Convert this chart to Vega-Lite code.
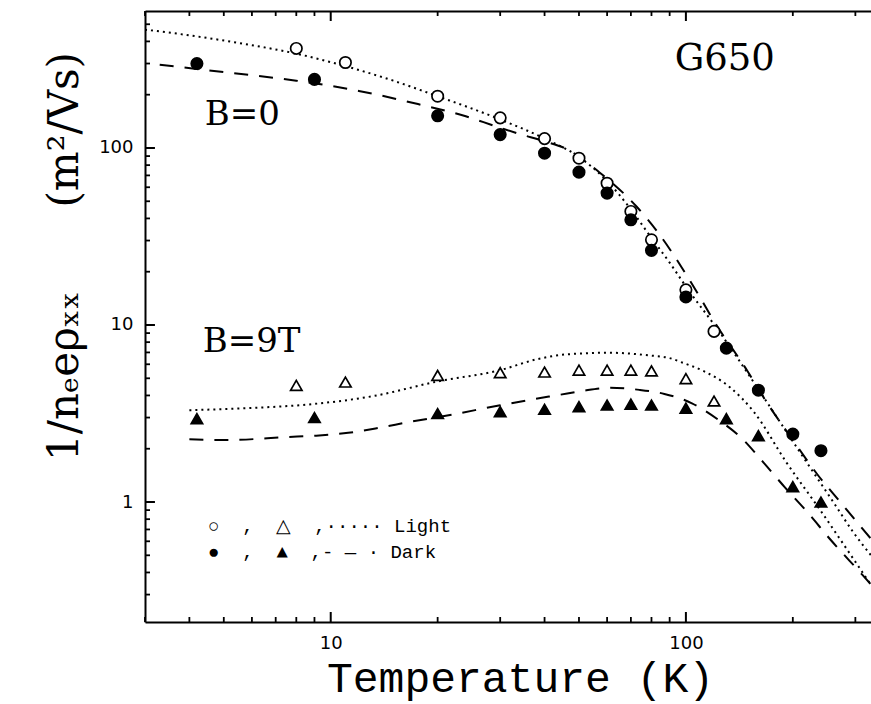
{
  "$schema": "https://vega.github.io/schema/vega-lite/v6.json",
  "width": 726,
  "height": 611,
  "autosize": {"type": "none"},
  "padding": {"left": 145, "top": 11, "right": 0, "bottom": 82},
  "background": "white",
  "config": {"view": {"stroke": null}, "axis": {"grid": false, "domainColor": "black", "domainWidth": 2}},
  "datasets": {
    "points": [
      {"T": 8, "v": 365, "cond": "Light", "B": "0"},
      {"T": 11, "v": 304, "cond": "Light", "B": "0"},
      {"T": 20, "v": 196, "cond": "Light", "B": "0"},
      {"T": 30, "v": 148, "cond": "Light", "B": "0"},
      {"T": 40, "v": 113, "cond": "Light", "B": "0"},
      {"T": 50, "v": 87.5, "cond": "Light", "B": "0"},
      {"T": 60, "v": 63.2, "cond": "Light", "B": "0"},
      {"T": 70, "v": 43.8, "cond": "Light", "B": "0"},
      {"T": 80, "v": 30.3, "cond": "Light", "B": "0"},
      {"T": 100, "v": 15.8, "cond": "Light", "B": "0"},
      {"T": 120, "v": 9.2, "cond": "Light", "B": "0"},
      {"T": 4.2, "v": 300, "cond": "Dark", "B": "0"},
      {"T": 9, "v": 244, "cond": "Dark", "B": "0"},
      {"T": 20, "v": 152, "cond": "Dark", "B": "0"},
      {"T": 30, "v": 119, "cond": "Dark", "B": "0"},
      {"T": 40, "v": 93.4, "cond": "Dark", "B": "0"},
      {"T": 50, "v": 73, "cond": "Dark", "B": "0"},
      {"T": 60, "v": 55.6, "cond": "Dark", "B": "0"},
      {"T": 70, "v": 39.3, "cond": "Dark", "B": "0"},
      {"T": 80, "v": 26.4, "cond": "Dark", "B": "0"},
      {"T": 100, "v": 14.4, "cond": "Dark", "B": "0"},
      {"T": 130, "v": 7.4, "cond": "Dark", "B": "0"},
      {"T": 160, "v": 4.28, "cond": "Dark", "B": "0"},
      {"T": 200, "v": 2.42, "cond": "Dark", "B": "0"},
      {"T": 240, "v": 1.95, "cond": "Dark", "B": "0"},
      {"T": 8, "v": 4.56, "cond": "Light", "B": "9T"},
      {"T": 11, "v": 4.76, "cond": "Light", "B": "9T"},
      {"T": 20, "v": 5.19, "cond": "Light", "B": "9T"},
      {"T": 30, "v": 5.38, "cond": "Light", "B": "9T"},
      {"T": 40, "v": 5.42, "cond": "Light", "B": "9T"},
      {"T": 50, "v": 5.56, "cond": "Light", "B": "9T"},
      {"T": 60, "v": 5.56, "cond": "Light", "B": "9T"},
      {"T": 70, "v": 5.56, "cond": "Light", "B": "9T"},
      {"T": 80, "v": 5.5, "cond": "Light", "B": "9T"},
      {"T": 100, "v": 4.98, "cond": "Light", "B": "9T"},
      {"T": 120, "v": 3.72, "cond": "Light", "B": "9T"},
      {"T": 4.2, "v": 2.96, "cond": "Dark", "B": "9T"},
      {"T": 9, "v": 3.0, "cond": "Dark", "B": "9T"},
      {"T": 20, "v": 3.16, "cond": "Dark", "B": "9T"},
      {"T": 30, "v": 3.24, "cond": "Dark", "B": "9T"},
      {"T": 40, "v": 3.34, "cond": "Dark", "B": "9T"},
      {"T": 50, "v": 3.46, "cond": "Dark", "B": "9T"},
      {"T": 60, "v": 3.53, "cond": "Dark", "B": "9T"},
      {"T": 70, "v": 3.57, "cond": "Dark", "B": "9T"},
      {"T": 80, "v": 3.53, "cond": "Dark", "B": "9T"},
      {"T": 100, "v": 3.39, "cond": "Dark", "B": "9T"},
      {"T": 130, "v": 2.96, "cond": "Dark", "B": "9T"},
      {"T": 160, "v": 2.37, "cond": "Dark", "B": "9T"},
      {"T": 200, "v": 1.22, "cond": "Dark", "B": "9T"},
      {"T": 240, "v": 1.0, "cond": "Dark", "B": "9T"}
    ],
    "curves": [
      {"T": 3, "v": 466, "curve": "LB0", "cond": "Light"},
      {"T": 4, "v": 433, "curve": "LB0", "cond": "Light"},
      {"T": 5.5, "v": 392, "curve": "LB0", "cond": "Light"},
      {"T": 8, "v": 341, "curve": "LB0", "cond": "Light"},
      {"T": 11, "v": 290, "curve": "LB0", "cond": "Light"},
      {"T": 15, "v": 240, "curve": "LB0", "cond": "Light"},
      {"T": 20, "v": 196, "curve": "LB0", "cond": "Light"},
      {"T": 30, "v": 145, "curve": "LB0", "cond": "Light"},
      {"T": 40, "v": 113, "curve": "LB0", "cond": "Light"},
      {"T": 50, "v": 89, "curve": "LB0", "cond": "Light"},
      {"T": 60, "v": 65, "curve": "LB0", "cond": "Light"},
      {"T": 70, "v": 45, "curve": "LB0", "cond": "Light"},
      {"T": 80, "v": 31, "curve": "LB0", "cond": "Light"},
      {"T": 90, "v": 22.5, "curve": "LB0", "cond": "Light"},
      {"T": 100, "v": 16.5, "curve": "LB0", "cond": "Light"},
      {"T": 125, "v": 9.0, "curve": "LB0", "cond": "Light"},
      {"T": 158, "v": 4.5, "curve": "LB0", "cond": "Light"},
      {"T": 190, "v": 2.57, "curve": "LB0", "cond": "Light"},
      {"T": 219, "v": 1.67, "curve": "LB0", "cond": "Light"},
      {"T": 260, "v": 1.0, "curve": "LB0", "cond": "Light"},
      {"T": 296, "v": 0.675, "curve": "LB0", "cond": "Light"},
      {"T": 332, "v": 0.5, "curve": "LB0", "cond": "Light"},
      {"T": 3.3, "v": 295, "curve": "DB0", "cond": "Dark"},
      {"T": 5.2, "v": 266, "curve": "DB0", "cond": "Dark"},
      {"T": 8, "v": 240, "curve": "DB0", "cond": "Dark"},
      {"T": 12, "v": 210, "curve": "DB0", "cond": "Dark"},
      {"T": 17.6, "v": 177, "curve": "DB0", "cond": "Dark"},
      {"T": 24, "v": 151, "curve": "DB0", "cond": "Dark"},
      {"T": 29, "v": 133, "curve": "DB0", "cond": "Dark"},
      {"T": 34, "v": 120, "curve": "DB0", "cond": "Dark"},
      {"T": 40, "v": 109, "curve": "DB0", "cond": "Dark"},
      {"T": 46, "v": 99, "curve": "DB0", "cond": "Dark"},
      {"T": 57, "v": 73, "curve": "DB0", "cond": "Dark"},
      {"T": 72.6, "v": 46.7, "curve": "DB0", "cond": "Dark"},
      {"T": 83, "v": 33.8, "curve": "DB0", "cond": "Dark"},
      {"T": 100, "v": 19.4, "curve": "DB0", "cond": "Dark"},
      {"T": 109, "v": 14.6, "curve": "DB0", "cond": "Dark"},
      {"T": 120, "v": 10.5, "curve": "DB0", "cond": "Dark"},
      {"T": 149, "v": 5.5, "curve": "DB0", "cond": "Dark"},
      {"T": 169, "v": 3.65, "curve": "DB0", "cond": "Dark"},
      {"T": 200, "v": 2.24, "curve": "DB0", "cond": "Dark"},
      {"T": 234, "v": 1.44, "curve": "DB0", "cond": "Dark"},
      {"T": 272, "v": 1.0, "curve": "DB0", "cond": "Dark"},
      {"T": 332, "v": 0.62, "curve": "DB0", "cond": "Dark"},
      {"T": 4.0, "v": 3.3, "curve": "L9T", "cond": "Light"},
      {"T": 6, "v": 3.4, "curve": "L9T", "cond": "Light"},
      {"T": 8.7, "v": 3.56, "curve": "L9T", "cond": "Light"},
      {"T": 13.2, "v": 3.97, "curve": "L9T", "cond": "Light"},
      {"T": 20, "v": 4.8, "curve": "L9T", "cond": "Light"},
      {"T": 30, "v": 5.56, "curve": "L9T", "cond": "Light"},
      {"T": 38, "v": 6.4, "curve": "L9T", "cond": "Light"},
      {"T": 46, "v": 6.82, "curve": "L9T", "cond": "Light"},
      {"T": 61, "v": 6.97, "curve": "L9T", "cond": "Light"},
      {"T": 79, "v": 6.73, "curve": "L9T", "cond": "Light"},
      {"T": 90, "v": 6.5, "curve": "L9T", "cond": "Light"},
      {"T": 98, "v": 6.12, "curve": "L9T", "cond": "Light"},
      {"T": 112, "v": 5.5, "curve": "L9T", "cond": "Light"},
      {"T": 133, "v": 4.45, "curve": "L9T", "cond": "Light"},
      {"T": 155, "v": 3.25, "curve": "L9T", "cond": "Light"},
      {"T": 192, "v": 1.67, "curve": "L9T", "cond": "Light"},
      {"T": 238, "v": 0.91, "curve": "L9T", "cond": "Light"},
      {"T": 296, "v": 0.478, "curve": "L9T", "cond": "Light"},
      {"T": 332, "v": 0.34, "curve": "L9T", "cond": "Light"},
      {"T": 4.0, "v": 2.26, "curve": "D9T", "cond": "Dark"},
      {"T": 5.1, "v": 2.24, "curve": "D9T", "cond": "Dark"},
      {"T": 7.6, "v": 2.33, "curve": "D9T", "cond": "Dark"},
      {"T": 9.1, "v": 2.37, "curve": "D9T", "cond": "Dark"},
      {"T": 11.2, "v": 2.46, "curve": "D9T", "cond": "Dark"},
      {"T": 13.6, "v": 2.62, "curve": "D9T", "cond": "Dark"},
      {"T": 16.9, "v": 2.85, "curve": "D9T", "cond": "Dark"},
      {"T": 20.5, "v": 3.04, "curve": "D9T", "cond": "Dark"},
      {"T": 30, "v": 3.52, "curve": "D9T", "cond": "Dark"},
      {"T": 37, "v": 3.8, "curve": "D9T", "cond": "Dark"},
      {"T": 44, "v": 4.03, "curve": "D9T", "cond": "Dark"},
      {"T": 51, "v": 4.24, "curve": "D9T", "cond": "Dark"},
      {"T": 61, "v": 4.42, "curve": "D9T", "cond": "Dark"},
      {"T": 74, "v": 4.3, "curve": "D9T", "cond": "Dark"},
      {"T": 87, "v": 4.08, "curve": "D9T", "cond": "Dark"},
      {"T": 104, "v": 3.61, "curve": "D9T", "cond": "Dark"},
      {"T": 123, "v": 2.93, "curve": "D9T", "cond": "Dark"},
      {"T": 144, "v": 2.28, "curve": "D9T", "cond": "Dark"},
      {"T": 165, "v": 1.68, "curve": "D9T", "cond": "Dark"},
      {"T": 190, "v": 1.21, "curve": "D9T", "cond": "Dark"},
      {"T": 220, "v": 0.875, "curve": "D9T", "cond": "Dark"},
      {"T": 254, "v": 0.62, "curve": "D9T", "cond": "Dark"},
      {"T": 315, "v": 0.385, "curve": "D9T", "cond": "Dark"},
      {"T": 332, "v": 0.342, "curve": "D9T", "cond": "Dark"}
    ],
    "fieldlabels": [
      {"T": 4.42, "v": 135, "label": "B=0"},
      {"T": 4.36, "v": 7.04, "label": "B=9T"}
    ],
    "sample": [
      {"T": 93, "v": 276, "label": "G650"}
    ],
    "xmajor": [{"T": 10}, {"T": 100}],
    "xminor": [{"T": 3}, {"T": 4}, {"T": 5}, {"T": 6}, {"T": 7}, {"T": 8}, {"T": 9}, {"T": 20}, {"T": 30}, {"T": 40}, {"T": 50}, {"T": 60}, {"T": 70}, {"T": 80}, {"T": 90}, {"T": 200}, {"T": 300}],
    "ymajor": [{"v": 1}, {"v": 10}, {"v": 100}],
    "yminor": [{"v": 0.3}, {"v": 0.4}, {"v": 0.5}, {"v": 0.6}, {"v": 0.7}, {"v": 0.8}, {"v": 0.9}, {"v": 2}, {"v": 3}, {"v": 4}, {"v": 5}, {"v": 6}, {"v": 7}, {"v": 8}, {"v": 9}, {"v": 20}, {"v": 30}, {"v": 40}, {"v": 50}, {"v": 60}, {"v": 70}, {"v": 80}, {"v": 90}, {"v": 200}, {"v": 300}, {"v": 400}, {"v": 500}]
  },
  "layer": [
    {
      "data": {"name": "curves"},
      "mark": {"type": "line", "interpolate": "monotone", "strokeWidth": 2, "color": "black", "clip": true},
      "encoding": {
        "x": {
          "field": "T", "type": "quantitative",
          "scale": {"type": "log", "domain": [3, 332], "nice": false},
          "axis": {
            "orient": "bottom",
            "values": [10, 100],
            "format": "d",
            "ticks": false, "domain": false,
            "labelFont": "DejaVu Sans", "labelFontSize": 18, "labelColor": "black",
            "labelBaseline": "top", "labelPadding": 12, "labelFlush": false, "labelOverlap": false,
            "title": "Temperature (K)",
            "titleFont": "Liberation Mono", "titleFontSize": 43, "titleFontWeight": "normal", "titleColor": "black",
            "titleX": 375, "titleY": 69, "titleBaseline": "alphabetic", "titleAlign": "center"
          }
        },
        "y": {
          "field": "v", "type": "quantitative",
          "scale": {"type": "log", "domain": [0.21, 594], "nice": false},
          "axis": {
            "orient": "left",
            "values": [1, 10, 100],
            "format": "d",
            "ticks": false, "domain": false,
            "labelFont": "DejaVu Sans", "labelFontSize": 18, "labelColor": "black",
            "labelPadding": 12, "labelFlush": false, "labelOverlap": false,
            "title": "1/nₑeρₓₓ\u2003\u2003(m²/Vs)",
            "titleFont": "DejaVu Serif", "titleFontSize": 42, "titleFontWeight": "normal", "titleColor": "black",
            "titleAngle": 270, "titleX": -68, "titleY": 245, "titleBaseline": "alphabetic", "titleAlign": "center"
          }
        },
        "strokeDash": {
          "field": "cond", "type": "nominal",
          "scale": {"domain": ["Light", "Dark"], "range": [[2, 4], [14, 11]]},
          "legend": {
            "orient": "bottom-left", "offset": 60, "title": null, "padding": 0,
            "symbolOpacity": 0, "symbolSize": 0, "symbolStrokeWidth": 0,
            "labelOffset": -16, "rowPadding": 6, "labelLimit": 0,
            "labelFont": "Liberation Mono", "labelFontSize": 19, "labelColor": "black",
            "labelExpr": "datum.label == 'Light' ? '○\u00a0\u00a0,\u00a0\u00a0△\u00a0\u00a0,·····\u00a0Light' : '●\u00a0\u00a0,\u00a0\u00a0▲\u00a0\u00a0,-\u00a0—\u00a0·\u00a0Dark'"
          }
        },
        "detail": {"field": "curve", "type": "nominal"}
      }
    },
    {
      "data": {"name": "points"},
      "mark": {"type": "point", "filled": true, "opacity": 1, "size": 130, "strokeWidth": 1.7},
      "encoding": {
        "x": {
          "field": "T", "type": "quantitative",
          "scale": {"type": "log", "domain": [3, 332], "nice": false},
          "axis": {"orient": "top", "offset": -611, "values": [10, 100], "labels": false, "ticks": false, "title": null}
        },
        "y": {
          "field": "v", "type": "quantitative",
          "scale": {"type": "log", "domain": [0.21, 594], "nice": false},
          "axis": {"orient": "right", "offset": -726, "values": [1, 10, 100], "labels": false, "ticks": false, "title": null}
        },
        "shape": {"field": "B", "type": "nominal", "scale": {"domain": ["0", "9T"], "range": ["circle", "triangle-up"]}, "legend": null},
        "fill": {"field": "cond", "type": "nominal", "scale": {"domain": ["Light", "Dark"], "range": ["white", "black"]}, "legend": null},
        "stroke": {"value": "black"}
      }
    },
    {
      "data": {"name": "fieldlabels"},
      "mark": {"type": "text", "align": "left", "baseline": "alphabetic", "font": "DejaVu Serif", "fontSize": 34, "color": "black"},
      "encoding": {
        "x": {
          "field": "T", "type": "quantitative",
          "scale": {"type": "log", "domain": [3, 332], "nice": false},
          "axis": {"orient": "bottom", "offset": -611, "values": [10, 100], "labels": false, "ticks": false, "title": null}
        },
        "y": {"field": "v", "type": "quantitative", "scale": {"type": "log", "domain": [0.21, 594], "nice": false}, "axis": null},
        "text": {"field": "label", "type": "nominal"}
      }
    },
    {
      "data": {"name": "sample"},
      "mark": {"type": "text", "align": "left", "baseline": "alphabetic", "font": "DejaVu Serif", "fontSize": 37, "color": "black"},
      "encoding": {
        "x": {"field": "T", "type": "quantitative", "scale": {"type": "log", "domain": [3, 332], "nice": false}, "axis": null},
        "y": {"field": "v", "type": "quantitative", "scale": {"type": "log", "domain": [0.21, 594], "nice": false}, "axis": null},
        "text": {"field": "label", "type": "nominal"}
      }
    },
    {
      "data": {"name": "xmajor"},
      "mark": {"type": "rule", "color": "black", "strokeWidth": 2},
      "encoding": {
        "x": {"field": "T", "type": "quantitative", "scale": {"type": "log", "domain": [3, 332], "nice": false}, "axis": null},
        "y": {"datum": 0.21, "type": "quantitative", "scale": {"type": "log", "domain": [0.21, 594], "nice": false}, "axis": null},
        "y2": {"datum": 0.2392}
      }
    },
    {
      "data": {"name": "xmajor"},
      "mark": {"type": "rule", "color": "black", "strokeWidth": 2},
      "encoding": {
        "x": {"field": "T", "type": "quantitative", "scale": {"type": "log", "domain": [3, 332], "nice": false}, "axis": null},
        "y": {"datum": 594, "type": "quantitative", "scale": {"type": "log", "domain": [0.21, 594], "nice": false}, "axis": null},
        "y2": {"datum": 521.5}
      }
    },
    {
      "data": {"name": "xminor"},
      "mark": {"type": "rule", "color": "black", "strokeWidth": 1.8},
      "encoding": {
        "x": {"field": "T", "type": "quantitative", "scale": {"type": "log", "domain": [3, 332], "nice": false}, "axis": null},
        "y": {"datum": 0.21, "type": "quantitative", "scale": {"type": "log", "domain": [0.21, 594], "nice": false}, "axis": null},
        "y2": {"datum": 0.2241}
      }
    },
    {
      "data": {"name": "xminor"},
      "mark": {"type": "rule", "color": "black", "strokeWidth": 1.8},
      "encoding": {
        "x": {"field": "T", "type": "quantitative", "scale": {"type": "log", "domain": [3, 332], "nice": false}, "axis": null},
        "y": {"datum": 594, "type": "quantitative", "scale": {"type": "log", "domain": [0.21, 594], "nice": false}, "axis": null},
        "y2": {"datum": 556.7}
      }
    },
    {
      "data": {"name": "ymajor"},
      "mark": {"type": "rule", "color": "black", "strokeWidth": 2},
      "encoding": {
        "y": {"field": "v", "type": "quantitative", "scale": {"type": "log", "domain": [0.21, 594], "nice": false}, "axis": null},
        "x": {"datum": 3, "type": "quantitative", "scale": {"type": "log", "domain": [3, 332], "nice": false}, "axis": null},
        "x2": {"datum": 3.2}
      }
    },
    {
      "data": {"name": "yminor"},
      "mark": {"type": "rule", "color": "black", "strokeWidth": 1.8},
      "encoding": {
        "y": {"field": "v", "type": "quantitative", "scale": {"type": "log", "domain": [0.21, 594], "nice": false}, "axis": null},
        "x": {"datum": 3, "type": "quantitative", "scale": {"type": "log", "domain": [3, 332], "nice": false}, "axis": null},
        "x2": {"datum": 3.099}
      }
    }
  ],
  "resolve": {"axis": {"x": "independent", "y": "independent"}}
}
